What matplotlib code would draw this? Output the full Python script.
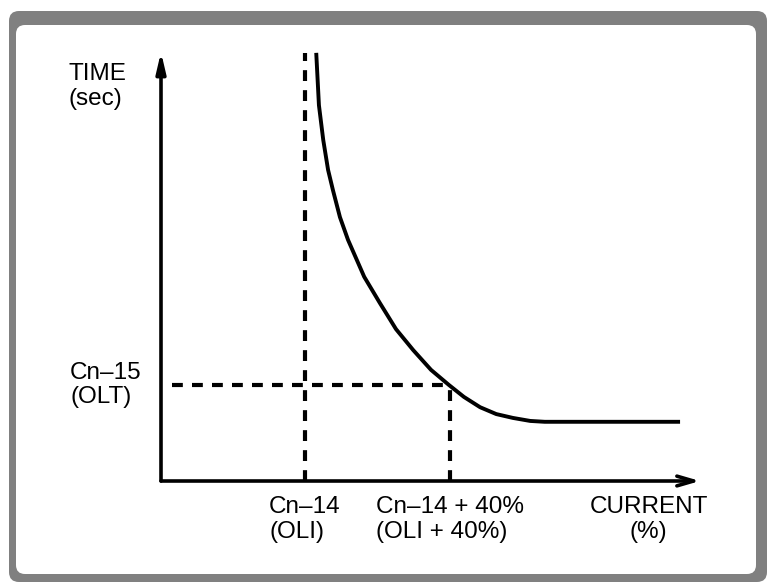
import numpy as np
import matplotlib.pyplot as plt
from matplotlib.patches import FancyBboxPatch

plt.rcParams['font.family'] = ['Liberation Sans', 'DejaVu Sans']

# overload curve (current %, time)
curve_x = [28.8, 29.3, 30.1, 31.0, 31.9, 33.2, 34.7, 37.7, 40.6, 43.6, 46.8, 50.1,
           53.4, 56.2, 59.2, 62.2, 65.3, 68.5, 71.2, 96.3]
curve_y = [99.8, 87.6, 79.5, 72.5, 67.8, 61.5, 56.2, 47.6, 41.5, 35.4, 30.5, 25.9,
           22.4, 19.6, 17.2, 15.6, 14.7, 14.0, 13.8, 13.8]

oli = 26.7          # Cn-14
oli_40 = 53.6       # Cn-14 + 40%
olt = 22.4          # Cn-15
dash_top = 99.8

x_labels = ['Cn\u201314\n(OLI)', 'Cn\u201314 + 40%\n(OLI + 40%)']
x_title = 'CURRENT\n(%)'
y_title = 'TIME\n(sec)'
y_label = 'Cn\u201315\n(OLT)'

W, H = 768, 584
fig = plt.figure(figsize=(W / 100, H / 100), dpi=100)

# frame around the picture
bg = fig.add_axes([0, 0, 1, 1])
bg.set_xlim(0, W)
bg.set_ylim(H, 0)
bg.axis('off')
bg.add_patch(FancyBboxPatch((9, 11), 758, 571, boxstyle='round,pad=0,rounding_size=10',
                            fc='#808080', ec='none'))
bg.add_patch(FancyBboxPatch((16, 25), 740, 549, boxstyle='round,pad=0,rounding_size=9',
                            fc='white', ec='none'))

ax = fig.add_axes([161 / W, (H - 481) / H, 539 / W, 429 / H])
ax.set_xlim(0, 100)
ax.set_ylim(0, 100)
ax.patch.set_visible(False)
for s in ax.spines.values():
    s.set_visible(False)
ax.set_xticks([])
ax.set_yticks([])

# axes with arrows
ax.annotate('', xy=(0, 100), xytext=(0, 0), annotation_clip=False,
            arrowprops=dict(arrowstyle='-|>,head_length=1.2,head_width=0.28', lw=2.6, color='black',
                            shrinkA=0, shrinkB=0))
ax.annotate('', xy=(100, 0), xytext=(0, 0), annotation_clip=False,
            arrowprops=dict(arrowstyle='->,head_length=1.2,head_width=0.35', lw=2.6, color='black',
                            shrinkA=0, shrinkB=0))

ax.plot(curve_x, curve_y, color='black', lw=2.8, solid_capstyle='butt', solid_joinstyle='round')

dash = (0, (2.6, 2.2))
ax.plot([oli, oli], [0, dash_top], color='black', lw=3.0, linestyle=dash)
ax.plot([2, oli_40], [olt, olt], color='black', lw=3.0, linestyle=dash)
ax.plot([oli_40, oli_40], [0, olt], color='black', lw=3.0, linestyle=dash)

fs = 17.5
for x, lab in zip([oli, oli_40], x_labels):
    ax.text(x, -0.035, lab, transform=ax.get_xaxis_transform(), ha='center', va='top',
            multialignment='left', fontsize=fs, linespacing=1.15)
ax.text(90.5, -0.035, x_title, transform=ax.get_xaxis_transform(), ha='center', va='top',
        multialignment='center', fontsize=fs, linespacing=1.15)
ax.text(-0.102, olt, y_label, transform=ax.get_yaxis_transform(), ha='center', va='center',
        multialignment='left', fontsize=fs, linespacing=1.15)
ax.text(-0.117, 0.92, y_title, transform=ax.transAxes, ha='center', va='center',
        multialignment='left', fontsize=fs, linespacing=1.15)

fig.savefig('out.png', dpi=100)
